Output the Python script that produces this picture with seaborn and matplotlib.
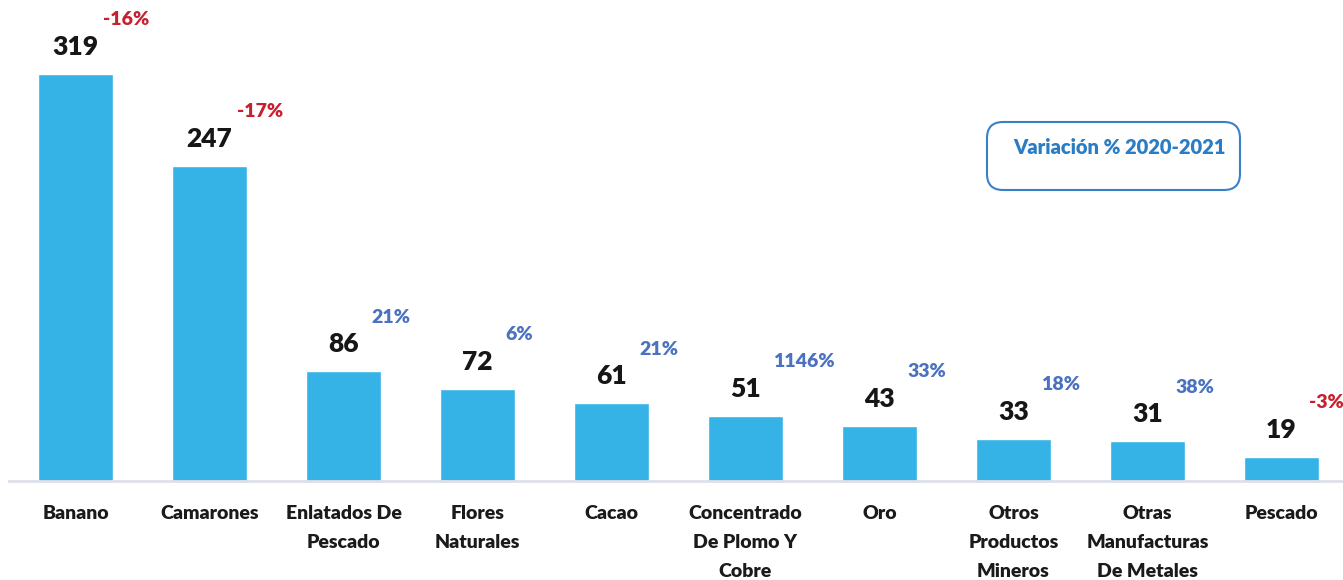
import numpy as np
import matplotlib
matplotlib.use("Agg")
import matplotlib.pyplot as plt
import seaborn as sns
from matplotlib.patches import FancyBboxPatch

# Exportaciones no petroleras principales (valores y variación 2020-2021)
categorias = ["Banano", "Camarones", "Enlatados De\nPescado", "Flores\nNaturales", "Cacao",
              "Concentrado\nDe Plomo Y\nCobre", "Oro", "Otros\nProductos\nMineros",
              "Otras\nManufacturas\nDe Metales", "Pescado"]
valores = [319, 247, 86, 72, 61, 51, 43, 33, 31, 19]
variacion = [-16, -17, 21, 6, 21, 1146, 33, 18, 38, -3]

sns.set_theme(style="white")
fuente = ["Lato", "DejaVu Sans"]
plt.rcParams["font.family"] = fuente
peso = "heavy"

W, H = 1343, 580
fig = plt.figure(figsize=(W / 100, H / 100), dpi=100)
ax = fig.add_axes([8.5 / W, (H - 481) / H, 1 - 8.5 / W, 481 / H])

sns.barplot(x=categorias, y=valores, color="#35B3E6", saturation=1, width=0.56, ax=ax)
ax.set_xlim(-0.5, 9.46)
ax.set_ylim(0, 377)

for s in ["top", "right", "left"]:
    ax.spines[s].set_visible(False)
ax.spines["bottom"].set_color("#DEDFE8")
ax.spines["bottom"].set_linewidth(2)
ax.set_yticks([])
ax.set_xlabel("")
ax.set_ylabel("")
ax.tick_params(axis="x", length=0, pad=17)
for lbl in ax.get_xticklabels():
    lbl.set_fontsize(14)
    lbl.set_fontweight(peso)
    lbl.set_color("#1A1A1A")
    lbl.set_linespacing(1.88)
    lbl.set_verticalalignment("top")

for i, (v, p) in enumerate(zip(valores, variacion)):
    ax.annotate(f"{v}", (i, v), xytext=(0, 19.5), textcoords="offset points",
                ha="center", va="center", fontsize=19, fontweight=peso, color="#161616")
    col = "#C8202F" if p < 0 else "#4A72C0"
    ax.annotate(f"{p}%", (i, v), xytext=(20, 39), textcoords="offset points",
                ha="left", va="center", fontsize=14, fontweight=peso, color=col)

# recuadro de leyenda
caja = FancyBboxPatch((987 / W, (H - 190) / H), 253 / W, 68 / H,
                      boxstyle="round,pad=0,rounding_size=0.012",
                      transform=fig.transFigure, facecolor="white",
                      edgecolor="#3A80C8", linewidth=1.5, mutation_aspect=W / H)
fig.patches.append(caja)
fig.text(1120 / W, (H - 147) / H, "Variación % 2020-2021", ha="center", va="center",
         fontsize=14.5, fontweight=peso, color="#2A7CC4")

fig.savefig("out.png", dpi=100)
